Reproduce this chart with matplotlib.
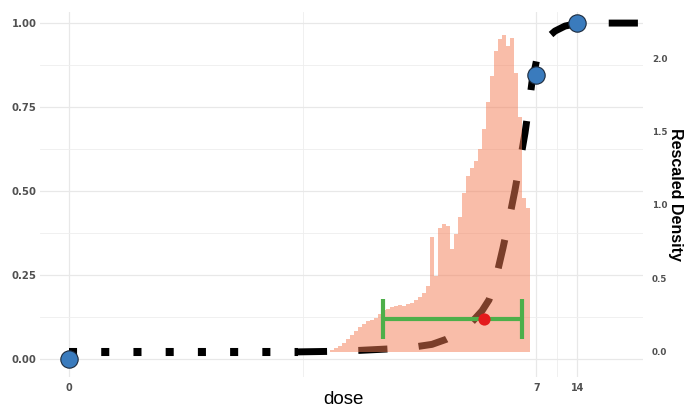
import numpy as np
import matplotlib
matplotlib.use("Agg")
import matplotlib.pyplot as plt
from matplotlib.ticker import FixedLocator, NullFormatter

# ---------------- data ----------------
obs_dose = [0, 7, 14]
obs_resp = [0.0, 0.845, 1.0]

# fitted model curve (dashed part)
curve_dose = [0.122, 0.212, 0.353, 0.589, 0.900, 1.200, 1.521, 1.928, 2.363,
              2.798, 3.150, 3.547, 3.993, 4.418, 4.891, 5.322, 5.792, 6.197,
              6.519, 6.858, 7.094, 7.463, 8.402, 9.621, 11.39, 13.96, 20.59, 40.49]
curve_resp = [0.0208, 0.0223, 0.0253, 0.0298, 0.0357, 0.0432, 0.0580, 0.0804,
              0.1101, 0.1429, 0.1756, 0.2411, 0.3304, 0.4137, 0.5030, 0.5863,
              0.6726, 0.7560, 0.8244, 0.8661, 0.8958, 0.9196, 0.9554, 0.9762,
              0.9911, 0.9985, 1.0, 1.0]

# low-dose extension of the curve (dotted)
low_dose = [0, 0.122]
low_resp = [0.0208, 0.0208]

# benchmark dose and its interval
bmd = 2.89
bmdl = 0.523
bmdu = 5.50
bmr_resp = 0.119

# rescaled posterior density of the BMD (equal bins on the log axis)
density_lo = 0.212
density_hi = 6.30
density = [0.01, 0.025, 0.04, 0.06, 0.09, 0.115, 0.14, 0.17, 0.19, 0.21,
           0.22, 0.23, 0.26, 0.285, 0.295, 0.305, 0.31, 0.32, 0.315, 0.325,
           0.335, 0.35, 0.375, 0.40, 0.45, 0.78, 0.52, 0.84, 0.87, 0.86,
           0.70, 0.80, 0.92, 1.08, 1.20, 1.25, 1.30, 1.38, 1.52, 1.70,
           1.88, 2.05, 2.13, 2.16, 2.08, 2.14, 1.90, 1.60, 1.05, 0.98]

x_ticks = [0, 7, 14]
x_ticklabels = ["0", "7", "14"]
y_ticks = [0.0, 0.25, 0.50, 0.75, 1.00]
y_ticklabels = ["0.00", "0.25", "0.50", "0.75", "1.00"]
d_ticks = [0.0, 0.5, 1.0, 1.5, 2.0]
d_ticklabels = ["0.0", "0.5", "1.0", "1.5", "2.0"]

# ---------------- scales ----------------
C = 0.0026
def fwd(x):
    return np.log10(np.asarray(x, dtype=float) + C)
def inv(t):
    return 10.0 ** np.asarray(t, dtype=float) - C

D_SCALE = 2.286
D_OFF = 0.0208
def to_dens(y):
    return (np.asarray(y, dtype=float) - D_OFF) * D_SCALE
def from_dens(d):
    return np.asarray(d, dtype=float) / D_SCALE + D_OFF

# ---------------- figure ----------------
fig = plt.figure(figsize=(6.86, 4.07), dpi=100)
ax = fig.add_axes([40 / 686, 30 / 407, 603 / 686, 365 / 407])
ax.set_xscale("function", functions=(fwd, inv))
ax.set_xlim(-0.001008, 42.6)
ax.set_ylim(-0.054, 1.033)

for s in ax.spines.values():
    s.set_visible(False)

ax.xaxis.set_major_locator(FixedLocator(x_ticks))
ax.set_xticklabels(x_ticklabels)
x_minor = [float(inv((fwd(a) + fwd(b)) / 2)) for a, b in zip(x_ticks[:-1], x_ticks[1:])]
ax.xaxis.set_minor_locator(FixedLocator(x_minor))
ax.xaxis.set_minor_formatter(NullFormatter())
ax.yaxis.set_major_locator(FixedLocator(y_ticks))
ax.set_yticklabels(y_ticklabels)
y_minor = [(a + b) / 2 for a, b in zip(y_ticks[:-1], y_ticks[1:])]
ax.yaxis.set_minor_locator(FixedLocator(y_minor))
ax.yaxis.set_minor_formatter(NullFormatter())

ax.grid(which="major", color="#e8e8e8", lw=0.9, zorder=0)
ax.grid(which="minor", color="#eeeeee", lw=0.6, zorder=0)
ax.set_axisbelow(True)
ax.tick_params(which="both", length=0)
ax.tick_params(axis="y", pad=2.5, labelsize=7.3, labelcolor="#505050")
ax.tick_params(axis="x", pad=4.5, labelsize=6.9, labelcolor="#505050")
for lab in ax.get_xticklabels() + ax.get_yticklabels():
    lab.set_fontfamily("DejaVu Sans")
    lab.set_fontweight("bold")

# low-dose dotted line
ax.plot(low_dose, low_resp, color="black", lw=5.8, linestyle=(0, (1, 3)),
        dash_capstyle="butt", zorder=2)
# model curve
ax.plot(curve_dose, curve_resp, color="black", lw=5.0, linestyle=(0, (4.2, 4.5)),
        dash_capstyle="butt", zorder=2)

# density histogram
edges = inv(np.linspace(fwd(density_lo), fwd(density_hi), len(density) + 1))
ax.stairs(from_dens(density), edges, baseline=D_OFF, fill=True,
          color="#F47C54", alpha=0.5, lw=0, zorder=3)

# BMD interval
ax.errorbar([bmd], [bmr_resp], xerr=[[bmd - bmdl], [bmdu - bmd]], fmt="none",
            ecolor="#4daf4a", elinewidth=3.0, capsize=14.4, capthick=3.0, zorder=5)
ax.plot([bmd], [bmr_resp], "o", color="#e41a1c", ms=8.8, mew=0, zorder=6)

# observations
ax.plot(obs_dose, obs_resp, "o", mfc="#3a7bbd", mec="#1c2a3c", mew=0.8,
        ms=12.5, zorder=7, clip_on=False)

# secondary axis
sec = ax.secondary_yaxis("right", functions=(to_dens, from_dens))
for s in sec.spines.values():
    s.set_visible(False)
sec.yaxis.set_major_locator(FixedLocator(d_ticks))
sec.set_yticklabels(d_ticklabels)
sec.tick_params(length=0, pad=6.5, labelsize=6.3, labelcolor="#505050")
for lab in sec.get_yticklabels():
    lab.set_fontfamily("DejaVu Sans")
    lab.set_fontweight("bold")
sec.set_ylabel("Rescaled Density", rotation=270, fontsize=11.5,
               fontfamily="Liberation Sans", fontweight="bold",
               va="center", ha="center")
sec.yaxis.set_label_coords(676 / 686, 1 - 194.5 / 407, transform=fig.transFigure)

ax.set_xlabel("dose", fontsize=13.5, fontfamily="Liberation Sans", va="top")
ax.xaxis.set_label_coords(343 / 686, 16 / 407, transform=fig.transFigure)

fig.savefig("out.png", dpi=100)
